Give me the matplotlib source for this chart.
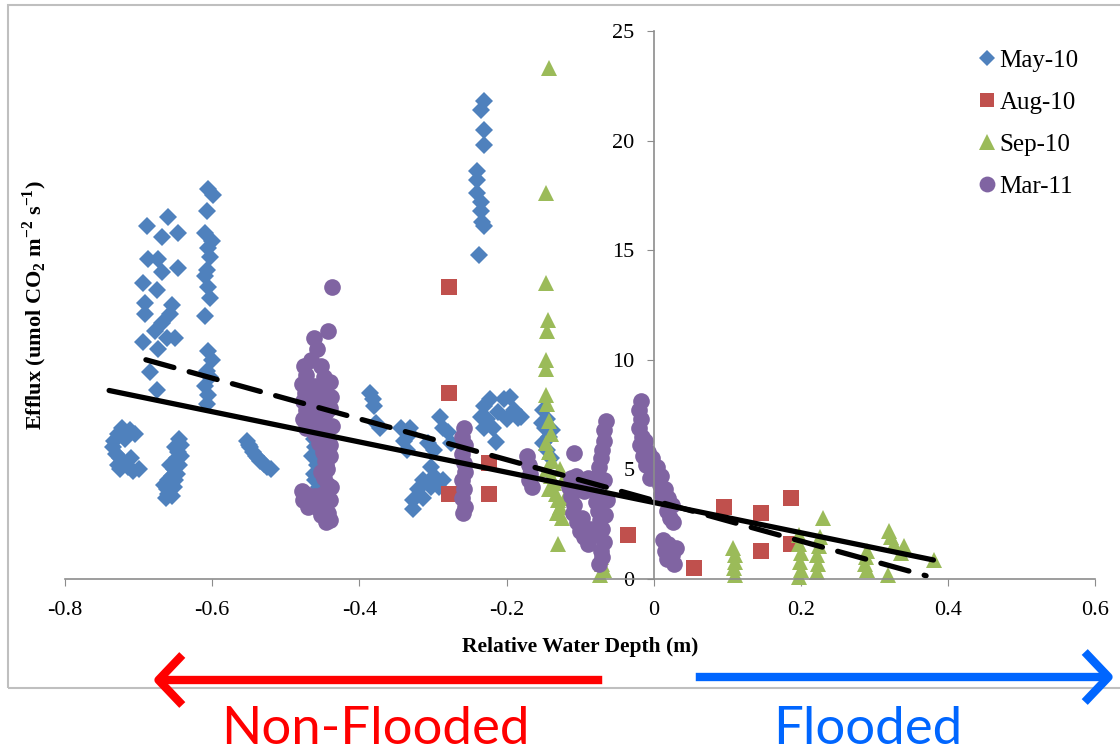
import matplotlib
matplotlib.use('Agg')
import matplotlib.pyplot as plt
from matplotlib.patches import Rectangle, FancyArrowPatch

# ---- data ----
may_x = [
    # cluster near -0.72
    -0.722, -0.712, -0.705, -0.728, -0.733, -0.735, -0.730, -0.725, -0.720, -0.715,
    -0.708, -0.700, -0.725, -0.718, -0.728, -0.710,
    # cluster near -0.67 (high)
    -0.689, -0.660, -0.668, -0.646, -0.687, -0.673, -0.646, -0.668, -0.694, -0.675,
    -0.691, -0.654, -0.691, -0.668, -0.657, -0.678, -0.661, -0.650, -0.694, -0.673,
    -0.684, -0.675,
    # cluster near -0.65 (low)
    -0.645, -0.643, -0.646, -0.648, -0.645, -0.652, -0.655, -0.650, -0.658, -0.662,
    -0.660, -0.663, -0.655, -0.652, -0.648, -0.642, -0.650, -0.660, -0.665, -0.657,
    # column near -0.6
    -0.605, -0.599, -0.607, -0.610, -0.600, -0.605, -0.603, -0.607, -0.610, -0.605,
    -0.603, -0.610, -0.605, -0.600, -0.607, -0.603, -0.610, -0.605, -0.607,
    # cluster near -0.54
    -0.553, -0.548, -0.545, -0.540, -0.535, -0.530, -0.525, -0.520, -0.550, -0.538,
    # under the Mar-11 column
    -0.462, -0.460, -0.465, -0.458, -0.462, -0.460, -0.455, -0.460, -0.444,
    # near -0.38
    -0.385, -0.382, -0.380, -0.378, -0.372,
    # cluster near -0.31
    -0.344, -0.331, -0.340, -0.335, -0.307, -0.299, -0.290, -0.286, -0.280, -0.276,
    -0.303, -0.313, -0.321, -0.327, -0.327, -0.299, -0.292, -0.286, -0.303, -0.313,
    -0.331,
    # column near -0.23 (high)
    -0.231, -0.235, -0.231, -0.231, -0.240, -0.240, -0.240, -0.235, -0.235, -0.233,
    -0.231, -0.238,
    # cluster near -0.21
    -0.231, -0.222, -0.235, -0.226, -0.212, -0.204, -0.195, -0.190, -0.181, -0.199,
    -0.218, -0.215, -0.231, -0.185,
    # among Sep-10 near -0.145
    -0.150, -0.145, -0.148, -0.142, -0.150, -0.145, -0.140, -0.152, -0.138,
]
may_y = [
    6.9, 6.8, 6.6, 6.6, 6.3, 6.0, 5.7, 5.5, 5.3, 5.1,
    4.95, 5.0, 5.0, 6.4, 5.2, 5.5,
    16.1, 16.5, 15.6, 15.8, 14.6, 14.6, 14.2, 14.0, 13.5, 13.2,
    12.6, 12.5, 12.1, 11.7, 12.1, 11.3, 11.0, 11.0, 10.8, 10.5,
    9.45, 8.6,
    6.4, 6.1, 5.8, 5.5, 5.2, 5.0, 4.7, 4.5, 4.3, 4.1,
    3.9, 3.7, 3.8, 4.2, 4.8, 5.6, 6.0, 4.5, 4.3, 5.2,
    17.8, 17.5, 16.8, 15.8, 15.4, 15.1, 14.7, 14.1, 13.8, 13.3,
    12.8, 12.0, 10.4, 10.0, 9.5, 9.2, 8.8, 8.4, 8.0,
    6.3, 6.0, 5.8, 5.6, 5.4, 5.25, 5.1, 5.0, 6.1, 5.5,
    6.4, 6.0, 5.6, 5.2, 4.8, 4.5, 4.2, 3.6, 6.8,
    8.5, 8.2, 7.9, 7.1, 6.9,
    6.9, 6.9, 6.3, 5.9, 6.2, 5.9, 7.4, 6.9, 6.7, 6.2,
    5.1, 4.5, 4.1, 3.6, 3.2, 4.7, 4.2, 4.5, 4.2, 3.7,
    6.6,
    21.8, 21.4, 20.5, 19.8, 18.6, 18.2, 17.6, 17.2, 16.8, 16.3,
    16.1, 14.8,
    7.9, 8.2, 7.4, 7.3, 7.6, 8.2, 8.3, 7.7, 7.4, 7.3,
    6.9, 6.25, 6.9, 7.35,
    7.7, 7.3, 6.9, 6.5, 6.2, 5.9, 5.5, 7.1, 6.8,
]

aug_x = [-0.278, -0.278, -0.278, -0.224, -0.224, -0.035, 0.054, 0.095, 0.146, 0.146, 0.186, 0.186]
aug_y = [13.3, 8.5, 3.9, 5.3, 3.9, 2.0, 0.5, 3.3, 3.0, 1.3, 3.7, 1.6]

sep_x = [
    -0.143, -0.146, -0.146, -0.144, -0.145, -0.146, -0.147, -0.146, -0.145, -0.143,
    -0.140, -0.147, -0.142, -0.138, -0.145, -0.140, -0.136, -0.142, -0.133, -0.130,
    -0.127, -0.132, -0.125, -0.120, -0.123, -0.128, -0.130,
    -0.072, -0.070, -0.068, -0.073,
    0.108, 0.110, 0.111, 0.109, 0.110,
    0.197, 0.198, 0.200, 0.199, 0.200, 0.198,
    0.230, 0.226, 0.224, 0.222, 0.223, 0.222,
    0.290, 0.288, 0.287, 0.290,
    0.320, 0.323, 0.326, 0.318, 0.340, 0.336,
    0.381,
]
sep_y = [
    23.3, 17.6, 13.5, 11.8, 11.3, 10.0, 9.6, 8.4, 8.0, 7.2,
    6.6, 6.2, 5.8, 5.4, 5.0, 4.7, 4.4, 4.1, 3.9, 3.6,
    3.3, 3.0, 2.8, 3.7, 4.5, 5.0, 1.6,
    1.0, 0.7, 0.4, 0.2,
    1.4, 1.1, 0.8, 0.5, 0.2,
    2.0, 1.6, 1.2, 0.8, 0.4, 0.1,
    2.8, 1.9, 1.5, 1.1, 0.7, 0.3,
    1.3, 1.0, 0.7, 0.4,
    2.2, 1.9, 1.6, 0.2, 1.5, 1.2,
    0.85,
]

mar_x = [
    # column near -0.46
    -0.437, -0.442, -0.462, -0.457,
    -0.475, -0.472, -0.478, -0.474, -0.477, -0.472, -0.476, -0.472, -0.466, -0.462,
    -0.458, -0.466, -0.460, -0.464, -0.460, -0.452, -0.448, -0.447, -0.452, -0.445,
    -0.450, -0.447, -0.442, -0.440, -0.438, -0.440, -0.437, -0.440, -0.455,
    -0.450, -0.447, -0.444, -0.448, -0.442, -0.446, -0.440, -0.452,
    -0.478, -0.476, -0.470, -0.472, -0.465, -0.460, -0.455, -0.450, -0.447, -0.443,
    -0.440, -0.445, -0.452, -0.440, -0.438,
    # near -0.26
    -0.258, -0.260, -0.257, -0.260, -0.258, -0.256, -0.260, -0.258, -0.260, -0.257,
    -0.259,
    # near -0.17
    -0.172, -0.170, -0.168, -0.170, -0.166,
    # near -0.1
    -0.109, -0.112, -0.115, -0.112, -0.108, -0.110, -0.104, -0.100, -0.095, -0.090,
    -0.100, -0.095, -0.105, -0.097, -0.087, -0.083, -0.085, -0.090,
    -0.065, -0.067, -0.068, -0.070, -0.072, -0.074, -0.076, -0.078, -0.077, -0.079,
    -0.076, -0.073, -0.070, -0.075, -0.068, -0.072, -0.070, -0.074, -0.066, -0.064,
    -0.068,
    # near 0
    -0.018, -0.020, -0.017, -0.020, -0.016, -0.019, -0.012, -0.008, -0.015, -0.010,
    -0.002, 0.005, 0.010, 0.000, -0.005, 0.008, 0.015, 0.020, 0.025, 0.018,
    0.022, 0.026, 0.010,
    0.012, 0.020, 0.015, 0.025, 0.018, 0.030, 0.028,
]
mar_y = [
    13.3, 11.3, 11.0, 10.5,
    9.7, 9.3, 8.9, 8.5, 8.1, 7.7, 7.3, 6.9, 10.0, 8.8,
    8.3, 7.9, 7.5, 7.0, 6.6, 9.7, 9.2, 8.6, 8.0, 7.6,
    7.2, 6.8, 6.4, 9.0, 8.3, 7.8, 7.0, 6.1, 6.2,
    5.8, 5.4, 5.0, 4.6, 4.3, 5.2, 5.6, 4.9,
    4.0, 3.6, 3.3, 3.9, 3.5, 3.8, 3.2, 3.9, 3.5, 3.0,
    2.7, 2.6, 2.9, 3.6, 4.2,
    6.9, 6.5, 6.1, 5.7, 5.3, 4.9, 4.5, 4.1, 3.7, 3.3,
    3.0,
    5.6, 5.2, 4.8, 4.5, 4.2,
    5.75, 4.6, 4.2, 3.8, 3.4, 3.0, 2.6, 2.2, 1.9, 1.6,
    4.4, 4.0, 4.7, 2.8, 2.3, 2.0, 4.3, 4.6,
    7.2, 6.8, 6.3, 5.9, 5.5, 5.1, 4.7, 4.3, 3.9, 3.5,
    3.1, 2.7, 2.3, 2.0, 1.7, 1.3, 1.0, 0.7, 2.9, 3.6,
    4.5,
    8.1, 7.7, 7.3, 6.9, 6.5, 6.1, 6.3, 5.8, 5.6, 5.2,
    5.5, 5.1, 4.7, 4.9, 4.6, 4.3, 4.1, 3.7, 3.4, 3.1,
    2.8, 2.6, 3.9,
    1.8, 1.6, 1.3, 1.1, 0.9, 1.4, 0.7,
]

# trend lines (end points)
solid_x = [-0.74, 0.38]
solid_y = [8.6, 0.87]
dash_x = [-0.69, 0.37]
dash_y = [10.0, 0.15]

x_ticks = [-0.8, -0.6, -0.4, -0.2, 0, 0.2, 0.4, 0.6]
x_tick_labels = ['-0.8', '-0.6', '-0.4', '-0.2', '0', '0.2', '0.4', '0.6']
y_ticks = [0, 5, 10, 15, 20, 25]


def main():
    plt.rcParams['font.family'] = 'Liberation Serif'
    plt.rcParams['mathtext.fontset'] = 'custom'
    plt.rcParams['mathtext.rm'] = 'Liberation Serif'
    plt.rcParams['mathtext.bf'] = 'Liberation Serif:bold'

    fig = plt.figure(figsize=(11.2, 7.53), dpi=100)
    ax = fig.add_axes([0.058, 0.231, 0.920, 0.728])

    ax.plot(may_x, may_y, 'D', color='#4F81BD', ms=9, mew=0, clip_on=False, label='May-10')
    ax.plot(aug_x, aug_y, 's', color='#C0504D', ms=11, mew=0, clip_on=False, label='Aug-10')
    ax.plot(sep_x, sep_y, '^', color='#9BBB59', ms=12, mew=0, clip_on=False, label='Sep-10')
    ax.plot(mar_x, mar_y, 'o', color='#8064A2', ms=12, mew=0, clip_on=False, label='Mar-11')

    ax.plot(solid_x, solid_y, '-', color='black', lw=3.8, solid_capstyle='round')
    ax.plot(dash_x, dash_y, '--', color='black', lw=3.8, dashes=(5.5, 3),
            dash_capstyle='round')

    ax.set_xlim(-0.8, 0.6)
    ax.set_ylim(0, 25)
    ax.set_xticks(x_ticks)
    ax.set_xticklabels(x_tick_labels)
    ax.set_yticks(y_ticks)

    ax.spines['top'].set_visible(False)
    ax.spines['right'].set_visible(False)
    ax.spines['left'].set_position(('data', 0))
    for s in ('left', 'bottom'):
        ax.spines[s].set_color('#8c8c8c')
        ax.spines[s].set_linewidth(1.2)
    ax.tick_params(axis='both', direction='out', length=5, color='#8c8c8c',
                   labelsize=16)
    ax.tick_params(axis='x', pad=11)
    ax.tick_params(axis='y', pad=9)

    ax.set_xlabel('Relative Water Depth (m)', fontsize=15.5, fontweight='bold', labelpad=12)
    ax.set_ylabel(r'Efflux (umol CO$_\mathbf{2}$ m$^\mathbf{-2}$ s$^\mathbf{-1}$)',
                  fontsize=16, fontweight='bold')
    ax.yaxis.set_label_coords((49 - 65) / 1030, 0.5)

    ax.legend(loc='upper left', bbox_to_anchor=(0.861, 0.948), bbox_transform=fig.transFigure,
              frameon=False, fontsize=18, handletextpad=0.0, labelspacing=0.78,
              handlelength=1.0, borderaxespad=0, markerscale=0.95)

    # outer chart frame
    fig.patches.append(Rectangle((8 / 1120, 65 / 753), 1.2, (748 - 65) / 753,
                                 transform=fig.transFigure, fill=False,
                                 edgecolor='#bfbfbf', lw=1.5))

    # flooding arrows
    red_arrow = FancyArrowPatch((605 / 1120, 73 / 753), (150 / 1120, 73 / 753),
                                transform=fig.transFigure, color='#ff0000', lw=6,
                                arrowstyle='->,head_length=0.95,head_width=1.0',
                                mutation_scale=18, capstyle='butt')
    blue_arrow = FancyArrowPatch((693 / 1120, 76 / 753), (1117 / 1120, 76 / 753),
                                 transform=fig.transFigure, color='#0066ff', lw=6,
                                 arrowstyle='->,head_length=0.95,head_width=1.0',
                                 mutation_scale=18, capstyle='butt')
    fig.patches.append(red_arrow)
    fig.patches.append(blue_arrow)

    fig.text(375 / 1120, 24 / 753, 'Non-Flooded', color='#ff0000', fontsize=38,
             family='Lato', ha='center', va='center')
    fig.text(868 / 1120, 24 / 753, 'Flooded', color='#0066ff', fontsize=38,
             family='Lato', ha='center', va='center')

    fig.savefig('out.png', dpi=100)


if __name__ == '__main__':
    main()
